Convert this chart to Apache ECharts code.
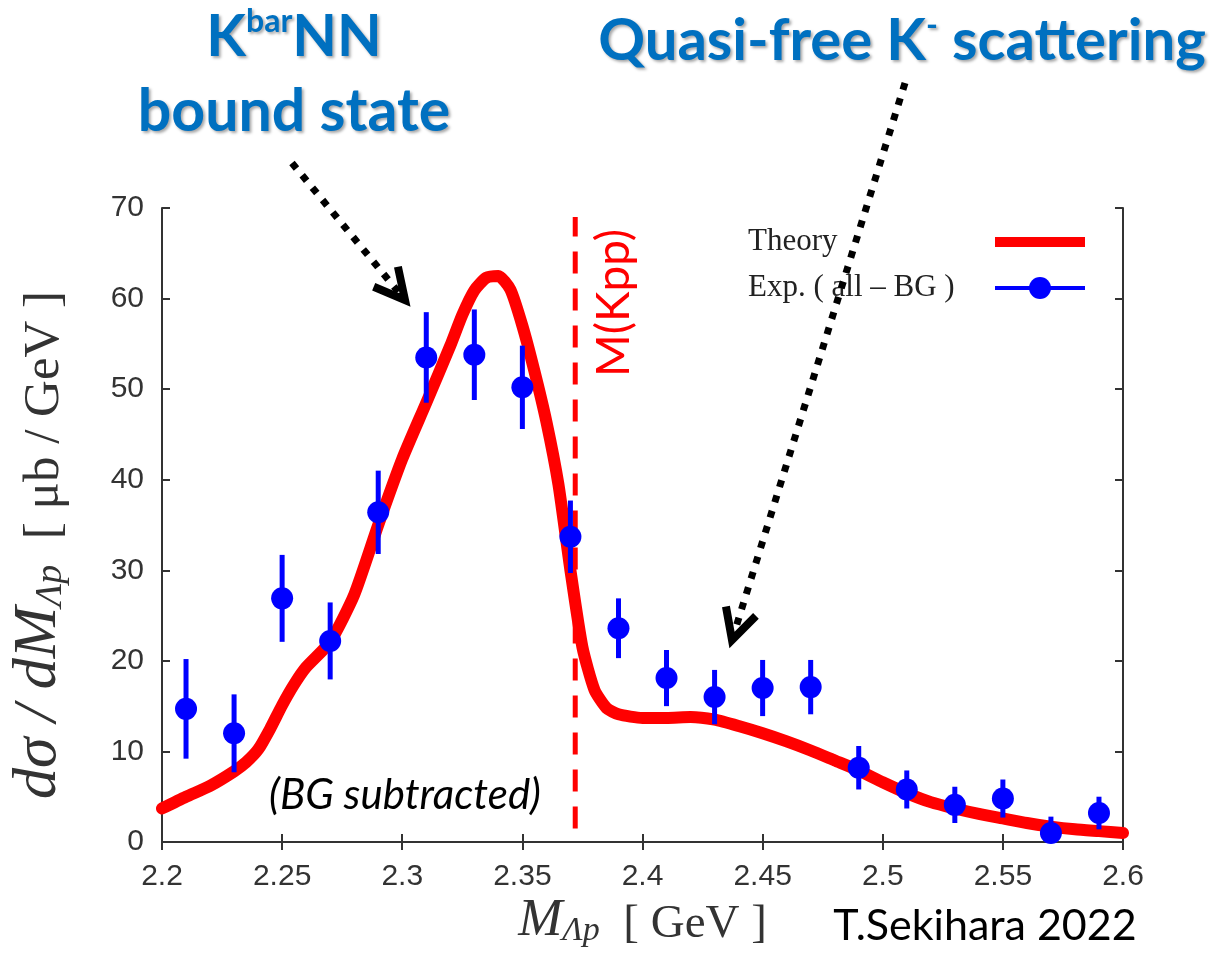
<!DOCTYPE html>
<html>
<head>
<meta charset="utf-8">
<script src="https://cdn.jsdelivr.net/npm/echarts@6/dist/echarts.min.js"></script>
<style>
  html, body { margin: 0; padding: 0; background: #fff; }
  #chart { width: 1227px; height: 957px; }
</style>
</head>
<body>
<div id="chart"></div>
<script>
const expMass = [2.21, 2.23, 2.25, 2.27, 2.29, 2.31, 2.33, 2.35, 2.37, 2.39,
                 2.41, 2.43, 2.45, 2.47, 2.49, 2.51, 2.53, 2.55, 2.57, 2.59];
const expValue = [14.7, 12.0, 26.9, 22.2, 36.4, 53.5, 53.8, 50.2, 33.7, 23.6,
                  18.1, 16.0, 17.0, 17.1, 8.2, 5.8, 4.1, 4.8, 1.0, 3.2];
const expError = [5.5, 4.3, 4.8, 4.25, 4.6, 5.0, 5.0, 4.6, 4.0, 3.3,
                  3.1, 3.0, 3.1, 3.0, 2.4, 2.1, 2.0, 2.1, 1.8, 1.8];

// Theory curve
const theoryMass = [2.200, 2.210, 2.220, 2.230, 2.235, 2.240, 2.245, 2.250, 2.255, 2.260,
                    2.270, 2.280, 2.290, 2.300, 2.310, 2.320, 2.325, 2.330, 2.335, 2.340,
                    2.345, 2.350, 2.355, 2.360, 2.365, 2.370, 2.375, 2.380, 2.385, 2.390,
                    2.400, 2.410, 2.420, 2.430, 2.440, 2.450, 2.460, 2.470, 2.480, 2.490,
                    2.500, 2.510, 2.520, 2.530, 2.540, 2.550, 2.560, 2.570, 2.580, 2.590,
                    2.600];
const theoryValue = [3.7, 5.0, 6.2, 7.8, 8.8, 10.2, 12.5, 15.1, 17.4, 19.3,
                     22.1, 27.3, 35.0, 42.3, 48.5, 54.8, 58.2, 60.9, 62.3, 62.5,
                     61.0, 57.0, 52.0, 46.4, 39.5, 30.0, 21.5, 16.8, 14.8, 14.1,
                     13.7, 13.7, 13.8, 13.5, 12.8, 12.0, 11.1, 10.1, 9.0, 7.9,
                     6.6, 5.4, 4.4, 3.7, 3.1, 2.6, 2.1, 1.7, 1.4, 1.2,
                     1.0];

// M(Kpp) threshold line
const kppMass = 2.372;
const kppRange = [1.5, 69];

const xMin = 2.2, xMax = 2.6, xStep = 0.05;
const yMin = 0, yMax = 70, yStep = 10;

const chart = echarts.init(document.getElementById('chart'));

const AXIS = '#333';
const BLUE_TXT = '#0070c0';
const SERIF = '"Liberation Serif", "DejaVu Serif", serif';
const SANS = '"Liberation Sans", Arial, sans-serif';
const CAL = 'Lato, "Open Sans", sans-serif';

function axisBase(show) {
  return {
    axisLine: { show: true, lineStyle: { color: AXIS, width: 2 } },
    axisTick: { show: true, inside: true, length: 8, lineStyle: { color: AXIS, width: 2 } },
    splitLine: { show: false },
    axisLabel: { show: show }
  };
}

// dotted arrow with an open chevron head
function arrow(x1, y1, x2, y2) {
  const a = Math.atan2(y2 - y1, x2 - x1);
  const len = 34, spread = 0.48;
  const back = 8;
  const lx = x2 - back * Math.cos(a), ly = y2 - back * Math.sin(a);
  return [
    { type: 'line', silent: true, z: 100,
      shape: { x1: x1, y1: y1, x2: lx, y2: ly },
      style: { stroke: '#000', lineWidth: 7, lineDash: [7, 9] } },
    { type: 'polyline', silent: true, z: 100,
      shape: { points: [
        [x2 - len * Math.cos(a - spread), y2 - len * Math.sin(a - spread)],
        [x2, y2],
        [x2 - len * Math.cos(a + spread), y2 - len * Math.sin(a + spread)]
      ] },
      style: { stroke: '#000', lineWidth: 8, fill: null, lineJoin: 'miter' } }
  ];
}

const blueShadow = {
  textShadowColor: 'rgba(0,0,0,0.35)', textShadowBlur: 3,
  textShadowOffsetX: 2, textShadowOffsetY: 2
};

const option = {
  backgroundColor: '#fff',
  animation: false,
  grid: { left: 162, right: 104, top: 208, bottom: 115, containLabel: false, outerBoundsMode: 'none' },
  xAxis: [
    Object.assign(axisBase(true), {
      type: 'value', min: xMin, max: xMax, interval: xStep,
      axisLabel: {
        show: true, margin: 20, color: AXIS, fontFamily: SANS, fontSize: 30,
        formatter: v => String(+v.toFixed(2))
      },
      name: '{it|M}{sub|Λp}{rm|  [ GeV ]}',
      nameLocation: 'middle', nameGap: 52, nameMoveOverlap: false,
      nameTextStyle: {
        rich: {
          it: { fontFamily: SERIF, fontStyle: 'italic', fontSize: 53, lineHeight: 54, verticalAlign: 'bottom', color: '#333' },
          sub: { fontFamily: SERIF, fontStyle: 'italic', fontSize: 34, lineHeight: 24, verticalAlign: 'bottom', color: '#333' },
          rm: { fontFamily: SERIF, fontSize: 47, lineHeight: 52, verticalAlign: 'bottom', color: '#333' }
        }
      }
    }),
    Object.assign(axisBase(false), {
      type: 'value', position: 'top', min: xMin, max: xMax, interval: xStep
    })
  ],
  yAxis: [
    Object.assign(axisBase(true), {
      type: 'value', min: yMin, max: yMax, interval: yStep,
      axisLabel: { show: true, margin: 18, color: AXIS, fontFamily: SANS, fontSize: 30 },
      name: '{it|dσ / dM}{sub|Λp}{rm|  [ μb / GeV ]}',
      nameLocation: 'middle', nameGap: 92, nameRotate: 90, nameMoveOverlap: false,
      nameTextStyle: {
        padding: [0, 40, 0, 0],
        rich: {
          it: { fontFamily: SERIF, fontStyle: 'italic', fontSize: 62, lineHeight: 64, verticalAlign: 'bottom', color: '#333' },
          sub: { fontFamily: SERIF, fontStyle: 'italic', fontSize: 38, lineHeight: 30, verticalAlign: 'bottom', color: '#333' },
          rm: { fontFamily: SERIF, fontSize: 51, lineHeight: 60, verticalAlign: 'bottom', color: '#333' }
        }
      }
    }),
    Object.assign(axisBase(false), {
      type: 'value', position: 'right', min: yMin, max: yMax, interval: yStep
    })
  ],
  series: [
    {
      name: 'M(Kpp)', type: 'line', silent: true, symbol: 'none', z: 3,
      data: kppRange.map(v => [kppMass, v]),
      lineStyle: { color: '#ff0000', width: 5, type: [22, 15] }
    },
    {
      name: 'Theory', type: 'line', silent: true, symbol: 'none', z: 4,
      smooth: 0.2,
      data: theoryMass.map((m, i) => [m, theoryValue[i]]),
      lineStyle: { color: '#ff0000', width: 12, cap: 'round', join: 'round' }
    },
    {
      name: 'Exp. error', type: 'custom', z: 5, clip: true,
      data: expMass.map((m, i) => [m, expValue[i] - expError[i], expValue[i] + expError[i]]),
      renderItem: (params, api) => {
        const top = api.coord([api.value(0), api.value(2)]);
        const bot = api.coord([api.value(0), api.value(1)]);
        return {
          type: 'line',
          shape: { x1: top[0], y1: top[1], x2: bot[0], y2: bot[1] },
          style: { stroke: '#0000ff', lineWidth: 5 }
        };
      }
    },
    {
      name: 'Exp. (all - BG)', type: 'scatter', z: 6,
      symbol: 'circle', symbolSize: 22,
      itemStyle: { color: '#0000ff', opacity: 1 },
      data: expMass.map((m, i) => [m, expValue[i]])
    }
  ],
  graphic: [
    // legend (gnuplot style)
    { type: 'text', x: 748, y: 242, z: 50,
      style: { text: 'Theory', font: '31px ' + SERIF, fill: '#222', align: 'left', verticalAlign: 'middle' } },
    { type: 'line', z: 50, shape: { x1: 995, y1: 242, x2: 1085, y2: 242 },
      style: { stroke: '#ff0000', lineWidth: 10 } },
    { type: 'text', x: 748, y: 288, z: 50,
      style: { text: 'Exp. ( all – BG )', font: '31px ' + SERIF, fill: '#222', align: 'left', verticalAlign: 'middle' } },
    { type: 'line', z: 50, shape: { x1: 995, y1: 288, x2: 1085, y2: 288 },
      style: { stroke: '#0000ff', lineWidth: 4 } },
    { type: 'circle', z: 51, shape: { cx: 1040, cy: 288, r: 11 }, style: { fill: '#0000ff' } },

    // annotations
    { type: 'text', x: 294, y: 36, z: 60,
      style: Object.assign({
        text: '{a|K}{s|bar}{a|NN}', align: 'center', verticalAlign: 'middle',
        rich: {
          a: { font: 'bold 58px ' + CAL, fill: BLUE_TXT, lineHeight: 60, verticalAlign: 'bottom' },
          s: { font: 'bold 32px ' + CAL, fill: BLUE_TXT, lineHeight: 26, verticalAlign: 'top' }
        }
      }, blueShadow) },
    { type: 'text', x: 294, y: 112, z: 60,
      style: Object.assign({
        text: 'bound state', font: 'bold 59px ' + CAL, fill: BLUE_TXT,
        align: 'center', verticalAlign: 'middle'
      }, blueShadow) },
    { type: 'text', x: 902, y: 40, z: 60,
      style: Object.assign({
        text: '{a|Quasi-free K}{s|-}{a| scattering}', align: 'center', verticalAlign: 'middle',
        rich: {
          a: { font: 'bold 58px ' + CAL, fill: BLUE_TXT, lineHeight: 60, verticalAlign: 'bottom' },
          s: { font: 'bold 32px ' + CAL, fill: BLUE_TXT, lineHeight: 26, verticalAlign: 'top' }
        }
      }, blueShadow) },
    { type: 'text', x: 405, y: 795, z: 60,
      style: { text: '(BG subtracted)', font: 'italic 42px ' + CAL, fill: '#000', align: 'center', verticalAlign: 'middle' } },
    { type: 'text', x: 985, y: 926, z: 60,
      style: { text: 'T.Sekihara 2022', font: '43px ' + CAL, fill: '#000', align: 'center', verticalAlign: 'middle' } },
    { type: 'text', x: 614, y: 303, z: 60, rotation: Math.PI / 2,
      style: { text: 'M(Kpp)', font: '46px ' + CAL, fill: '#ff0000', align: 'center', verticalAlign: 'middle' } }
  ].concat(arrow(292, 163, 405, 300), arrow(905, 83, 732, 640))
};

chart.setOption(option);
</script>
</body>
</html>
